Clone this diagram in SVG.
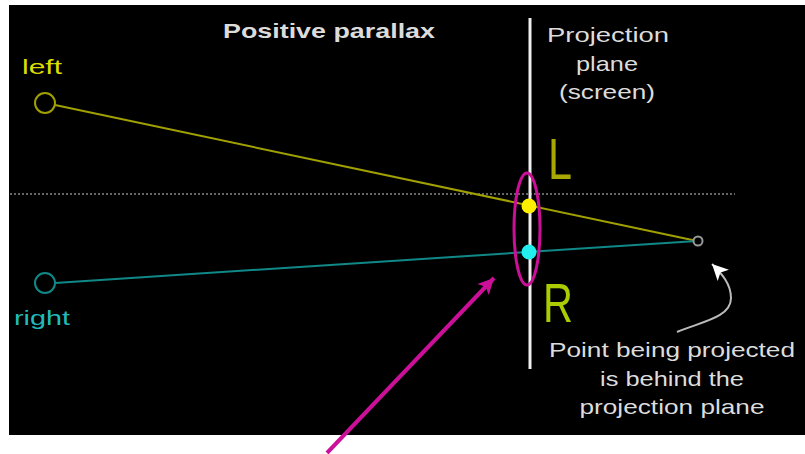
<svg xmlns="http://www.w3.org/2000/svg" width="805" height="454" viewBox="0 0 805 454">
<style>
.t{font-family:"Liberation Sans",Arial,sans-serif;fill:#dcdcdc;font-size:21px}
.tb{font-weight:bold}
</style>
<defs>
<marker id="mag" markerUnits="userSpaceOnUse" markerWidth="20" markerHeight="20" refX="16" refY="8" orient="auto">
<path d="M0,0 L16,8 L0,16 L4,8 Z" fill="#cc0f99"/>
</marker>
<marker id="wh" markerUnits="userSpaceOnUse" markerWidth="20" markerHeight="20" refX="16" refY="8" orient="auto">
<path d="M0,0 L16,8 L0,16 L4,8 Z" fill="#ffffff"/>
</marker>
</defs>
<rect width="805" height="454" fill="#ffffff"/>
<rect x="9" y="5" width="796" height="430" fill="#000000"/>

<g id="guides">
<line x1="10" y1="194" x2="735" y2="194" stroke="#666" stroke-width="2" stroke-dasharray="2 2"/>
</g>

<g id="connectors">
<line x1="55" y1="105" x2="697" y2="241" stroke="#a0a000" stroke-width="2"/>
<line x1="55" y1="283" x2="697" y2="241" stroke="#118888" stroke-width="2"/>
<path d="M677,332 C700,322 731,318 731,298 C731,284 722,274 712,264" fill="none" stroke="#bbbbbb" stroke-width="2" marker-end="url(#wh)"/>
<line x1="327" y1="453" x2="494" y2="278" stroke="#cc0f99" stroke-width="4" marker-end="url(#mag)"/>
</g>

<g id="projection-plane">
<line x1="530" y1="18" x2="530" y2="369" stroke="#eeeeee" stroke-width="3"/>
<text class="t" x="608" y="42" text-anchor="middle" textLength="122" lengthAdjust="spacingAndGlyphs">Projection</text>
<text class="t" x="607" y="71" text-anchor="middle" textLength="62" lengthAdjust="spacingAndGlyphs">plane</text>
<text class="t" x="607" y="99" text-anchor="middle" textLength="96" lengthAdjust="spacingAndGlyphs">(screen)</text>
</g>

<g id="title">
<text class="t tb" x="329" y="38" text-anchor="middle" textLength="212" lengthAdjust="spacingAndGlyphs">Positive parallax</text>
</g>

<g id="left-eye">
<circle cx="45" cy="103" r="10" fill="none" stroke="#a0a000" stroke-width="2"/>
<text x="22" y="74" font-family="Liberation Sans, Arial, sans-serif" font-size="20" fill="#dddd00" textLength="40" lengthAdjust="spacingAndGlyphs">left</text>
</g>

<g id="right-eye">
<circle cx="45" cy="283" r="10" fill="none" stroke="#118888" stroke-width="2"/>
<text x="14" y="325" font-family="Liberation Sans, Arial, sans-serif" font-size="20" fill="#22bbbb" textLength="56" lengthAdjust="spacingAndGlyphs">right</text>
</g>

<g id="point">
<circle cx="698" cy="241" r="4.5" fill="#000" stroke="#999" stroke-width="2"/>
<text class="t" x="672" y="357" text-anchor="middle" textLength="246" lengthAdjust="spacingAndGlyphs">Point being projected</text>
<text class="t" x="672" y="386" text-anchor="middle" textLength="144" lengthAdjust="spacingAndGlyphs">is behind the</text>
<text class="t" x="672" y="414" text-anchor="middle" textLength="185" lengthAdjust="spacingAndGlyphs">projection plane</text>
</g>

<g id="L-point">
<circle cx="529" cy="206" r="7.5" fill="#ffee00"/>
<text x="548" y="179" font-family="Liberation Sans, Arial, sans-serif" font-size="58" fill="#a8a800" textLength="24" lengthAdjust="spacingAndGlyphs">L</text>
</g>

<g id="R-point">
<circle cx="529" cy="252" r="7.5" fill="#22eeee"/>
<text x="543" y="322" font-family="Liberation Sans, Arial, sans-serif" font-size="56" fill="#aacc00" textLength="30" lengthAdjust="spacingAndGlyphs">R</text>
</g>

<g id="highlight">
<ellipse cx="527" cy="229" rx="13" ry="56" fill="none" stroke="#cc0f99" stroke-width="3"/>
</g>
</svg>
